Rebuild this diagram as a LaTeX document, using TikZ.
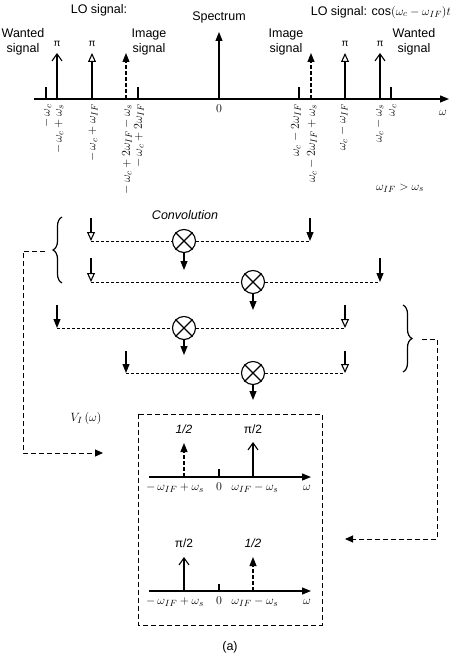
\documentclass[tikz,border=0pt]{standalone}
\usepackage{fontspec}
\setmainfont{Liberation Sans}
\usetikzlibrary{arrows.meta,decorations.pathreplacing}
\begin{document}
\begin{tikzpicture}[x=1pt,y=-1pt,
  every node/.style={inner sep=1pt},
  txt/.style={font=\fontsize{12.5}{15}\selectfont, align=center},
  mth/.style={font=\fontsize{12.8}{15}\selectfont},
  pilbl/.style={font=\fontsize{10}{12}\selectfont},
  axis/.style={line width=1.2pt, -{Triangle[length=9pt,width=7pt]}},
  tick/.style={line width=1.2pt},
  fillhead/.style={line width=1.1pt, -{Triangle[length=9pt,width=7pt]}},
  openhead/.style={line width=1.1pt, -{Triangle[open,length=9pt,width=8pt,fill=white]}},
  vhead/.style={line width=1.1pt, -{Straight Barb[length=7pt,width=10pt]}},
  dstem/.style={dash pattern=on 4pt off 2pt},
  dsh/.style={line width=0.9pt, dash pattern=on 3pt off 2pt},
  ldsh/.style={line width=1pt, dash pattern=on 5pt off 3pt},
  mult/.style={circle, draw, line width=1.1pt, minimum size=23pt, inner sep=0pt},
  rot/.style={mth, rotate=90, anchor=east},
  brc/.style={line width=1.2pt, decorate, decoration={brace, amplitude=9pt}},
]
\useasboundingbox (0,0) rectangle (452,655);

% ---------------- top spectrum ----------------
\coordinate (ax0) at (34,99);
\coordinate (ax1) at (449,99);
\draw[axis] (ax0) -- (ax1);
\node[mth] (omg) at (443,113) {$\omega$};

% ticks
\foreach \x/\n in {46/ta,138/tb,299/tc,391/td}{
  \coordinate (\n0) at (\x,99);
  \coordinate (\n1) at (\x,87);
  \draw[tick] (\n0) -- (\n1);
}

% spectrum arrow
\coordinate (sp0) at (219,99);
\coordinate (sp1) at (219,32);
\draw[fillhead] (sp0) -- (sp1);
\node[txt] (spec) at (219,17) {Spectrum};
\node[mth] (zero) at (219,109) {$0$};

% impulses
\coordinate (a0) at (57,99);  \coordinate (a1) at (57,53);
\coordinate (b0) at (92,99);  \coordinate (b1) at (92,53);
\coordinate (c0) at (126,99); \coordinate (c1) at (126,53);
\coordinate (d0) at (311,99); \coordinate (d1) at (311,53);
\coordinate (e0) at (345,99); \coordinate (e1) at (345,53);
\coordinate (f0) at (380,99); \coordinate (f1) at (380,53);
\draw[vhead] (a0) -- (a1);
\draw[openhead] (b0) -- (b1);
\draw[fillhead,dstem] (c0) -- (c1);
\draw[fillhead,dstem] (d0) -- (d1);
\draw[openhead] (e0) -- (e1);
\draw[vhead] (f0) -- (f1);
\node[pilbl] (pa) at (57,44) {π};
\node[pilbl] (pb) at (92,44) {π};
\node[pilbl] (pe) at (345,44) {π};
\node[pilbl] (pf) at (380,44) {π};

% top texts
\node[txt] (lo1) at (99,10) {LO signal:};
\node[txt, anchor=east] (lo2) at (452,12) {LO signal: $\cos(\omega_c-\omega_{IF})t$};
\node[txt] (ws1) at (23,42) {Wanted\\signal};
\node[txt] (is1) at (149,42) {Image\\signal};
\node[txt] (is2) at (286,42) {Image\\signal};
\node[txt] (ws2) at (414,42) {Wanted\\signal};

% rotated labels
\node[rot] (l1) at (47,103) {$-\,\omega_c$};
\node[rot] (l2) at (59,103) {$-\,\omega_c+\omega_s$};
\node[rot] (l3) at (93,103) {$-\,\omega_c+\omega_{IF}$};
\node[rot] (l4) at (127,103) {$-\,\omega_c+2\omega_{IF}-\omega_s$};
\node[rot] (l5) at (139,103) {$-\,\omega_c+2\omega_{IF}$};
\node[rot] (l6) at (296,103) {$\omega_c-2\omega_{IF}$};
\node[rot] (l7) at (312,103) {$\omega_c-2\omega_{IF}+\omega_s$};
\node[rot] (l8) at (343,103) {$\omega_c-\omega_{IF}$};
\node[rot] (l9) at (379,103) {$\omega_c-\omega_s$};
\node[rot] (l10) at (393,103) {$\omega_c$};

\node[mth] (cond) at (400,188) {$\omega_{IF}>\omega_s$};

% ---------------- convolution ----------------
\node[txt, font=\fontsize{12.5}{15}\selectfont\itshape] (conv) at (185,215) {Convolution};

% row 1
\node[mult] (m1) at (184,241) {};
\coordinate (r1lt) at (91,218); \coordinate (r1l) at (91,241);
\coordinate (r1rt) at (310,218); \coordinate (r1r) at (310,241);
\coordinate (r1o) at (184,270);
% row 2
\node[mult] (m2) at (253,282) {};
\coordinate (r2lt) at (91,258); \coordinate (r2l) at (91,282);
\coordinate (r2rt) at (380,258); \coordinate (r2r) at (380,282);
\coordinate (r2o) at (253,310);
% row 3
\node[mult] (m3) at (184,328) {};
\coordinate (r3lt) at (57,305); \coordinate (r3l) at (57,328);
\coordinate (r3rt) at (345,305); \coordinate (r3r) at (345,328);
\coordinate (r3o) at (184,355);
% row 4
\node[mult] (m4) at (253,373) {};
\coordinate (r4lt) at (126,351); \coordinate (r4l) at (126,373);
\coordinate (r4rt) at (345,351); \coordinate (r4r) at (345,373);
\coordinate (r4o) at (253,400);

\foreach \m in {m1,m2,m3,m4}{
  \draw[line width=1.1pt] (\m.north west) -- (\m.south east);
  \draw[line width=1.1pt] (\m.north east) -- (\m.south west);
}

\draw[openhead] (r1lt) -- (r1l);
\draw[fillhead] (r1rt) -- (r1r);
\draw[openhead] (r2lt) -- (r2l);
\draw[fillhead] (r2rt) -- (r2r);
\draw[fillhead] (r3lt) -- (r3l);
\draw[openhead] (r3rt) -- (r3r);
\draw[fillhead] (r4lt) -- (r4l);
\draw[openhead] (r4rt) -- (r4r);

\foreach \i in {1,2,3,4}{
  \draw[dsh] (r\i l) -- (m\i.west);
  \draw[dsh] (m\i.east) -- (r\i r);
  \draw[fillhead] (m\i.south) -- (r\i o);
}

% braces
\draw[brc] (62,283) -- (62,217);
\draw[brc] (403,305) -- (403,372);

% feedback connectors
\coordinate (lb) at (45,251);
\coordinate (lbc1) at (23,251);
\coordinate (lbc2) at (23,453);
\coordinate (lbe) at (103,453);
\draw[ldsh, -{Triangle[length=8pt,width=7pt]}] (lb) -- (lbc1) -- (lbc2) -- (lbe);

\coordinate (rb) at (422,339);
\coordinate (rbc1) at (437,339);
\coordinate (rbc2) at (437,539);
\coordinate (rbe) at (345,539);
\draw[ldsh, -{Triangle[length=8pt,width=7pt]}] (rb) -- (rbc1) -- (rbc2) -- (rbe);

\node[mth] (vi) at (86,418) {$V_I\,(\omega)$};

% ---------------- result box ----------------
\draw[ldsh] (138,414) rectangle (322,625);

% subplot 1
\coordinate (p1a) at (149,477); \coordinate (p1b) at (311,477);
\draw[axis] (p1a) -- (p1b);
\coordinate (p1t0) at (219,477); \coordinate (p1t1) at (219,469);
\draw[tick] (p1t0) -- (p1t1);
\coordinate (p1l0) at (184,477); \coordinate (p1l1) at (184,443);
\coordinate (p1r0) at (253,477); \coordinate (p1r1) at (253,442);
\draw[fillhead,dstem] (p1l0) -- (p1l1);
\draw[vhead] (p1r0) -- (p1r1);
\node[txt, font=\fontsize{12}{14}\selectfont\itshape] (h1a) at (184,429) {1/2};
\node[txt, font=\fontsize{12}{14}\selectfont] (h1b) at (253,429) {π/2};
\node[mth] (x1a) at (175,488) {$-\,\omega_{IF}+\omega_s$};
\node[mth] (x1b) at (219,487) {$0$};
\node[mth] (x1c) at (255,488) {$\omega_{IF}-\omega_s$};
\node[mth] (x1d) at (307,488) {$\omega$};

% subplot 2
\coordinate (p2a) at (149,591); \coordinate (p2b) at (311,591);
\draw[axis] (p2a) -- (p2b);
\coordinate (p2t0) at (219,591); \coordinate (p2t1) at (219,584);
\draw[tick] (p2t0) -- (p2t1);
\coordinate (p2l0) at (184,591); \coordinate (p2l1) at (184,557);
\coordinate (p2r0) at (253,591); \coordinate (p2r1) at (253,557);
\draw[vhead] (p2l0) -- (p2l1);
\draw[fillhead,dstem] (p2r0) -- (p2r1);
\node[txt, font=\fontsize{12}{14}\selectfont] (h2a) at (184,543) {π/2};
\node[txt, font=\fontsize{12}{14}\selectfont\itshape] (h2b) at (253,543) {1/2};
\node[mth] (x2a) at (175,602) {$-\,\omega_{IF}+\omega_s$};
\node[mth] (x2b) at (219,601) {$0$};
\node[mth] (x2c) at (255,602) {$\omega_{IF}-\omega_s$};
\node[mth] (x2d) at (307,602) {$\omega$};

\node[txt] (cap) at (230,647) {(a)};
\end{tikzpicture}
\end{document}
